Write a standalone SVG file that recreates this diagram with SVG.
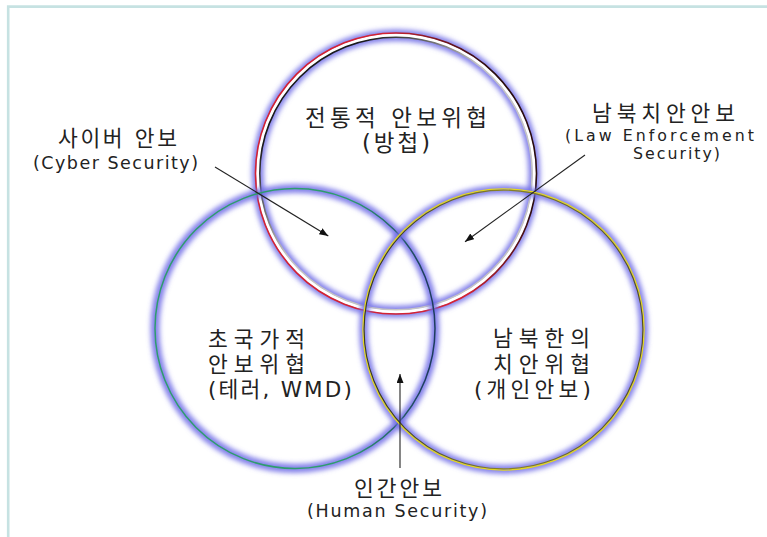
<svg xmlns="http://www.w3.org/2000/svg" width="767" height="537" viewBox="0 0 767 537">
<style>
.t{font-family:"DejaVu Sans","Noto Sans CJK KR",sans-serif;fill:#222;}
.ko{font-size:21.5px;}
.la{font-size:17.5px;}
.lb{font-size:15.8px;}
.glow{fill:none;stroke:#6e6be6;stroke-opacity:0.85;filter:url(#blur);}
.conn{stroke:#222;stroke-width:1.1;fill:none;marker-end:url(#ah);}
</style>
<defs>
<filter id="blur" x="-20%" y="-20%" width="140%" height="140%"><feGaussianBlur stdDeviation="2.6"/></filter>
<marker id="ah" markerUnits="userSpaceOnUse" markerWidth="10" markerHeight="8" refX="9" refY="3.5" orient="auto"><path d="M0,0 L9,3.5 L0,7 z" fill="#111"/></marker>
<linearGradient id="gTopOut" x1="0" y1="0.6" x2="1" y2="0.3"><stop offset="0.6" stop-color="#d42232"/><stop offset="0.9" stop-color="#2a0c0c"/></linearGradient>
<linearGradient id="gTopIn" x1="0" y1="0" x2="1" y2="1"><stop offset="0.2" stop-color="#1a1a1a"/><stop offset="0.45" stop-color="#c4c4c4"/></linearGradient>
<linearGradient id="gLeft" x1="0" y1="0" x2="1" y2="0"><stop offset="0.7" stop-color="#2e9c6e"/><stop offset="0.97" stop-color="#1d3d5e"/></linearGradient>
<linearGradient id="gRight" x1="0" y1="0" x2="1" y2="0"><stop offset="0.05" stop-color="#3c3c14"/><stop offset="0.5" stop-color="#8a8424"/><stop offset="1" stop-color="#55501a"/></linearGradient>
</defs>
<rect width="767" height="537" fill="#fff"/>
<path d="M8.2,537 V6.6 H767" fill="none" stroke="#c6e2e2" stroke-width="2.6"/>

<g id="node-top">
<circle class="glow" cx="396" cy="173.5" r="138.3" stroke-width="12"/>
<circle cx="396" cy="173.5" r="138.3" fill="none" stroke="#fff" stroke-width="3.5"/>
<circle cx="396" cy="173.5" r="140.5" fill="none" stroke="url(#gTopOut)" stroke-width="1.6"/>
<circle cx="396" cy="173.5" r="136.2" fill="none" stroke="url(#gTopIn)" stroke-width="1.6"/>
<text class="t" x="396" y="125.5" text-anchor="middle" font-size="22.5" textLength="182" lengthAdjust="spacing">전통적 안보위협</text>
<text class="t" x="396" y="151" text-anchor="middle" font-size="22.5" textLength="68" lengthAdjust="spacing">(방첩)</text>
</g>

<g id="node-left">
<circle class="glow" cx="295" cy="328.5" r="140" stroke-width="9"/>
<circle cx="295" cy="328.5" r="140" fill="none" stroke="url(#gLeft)" stroke-width="1.5"/>
<text class="t ko" x="208" y="346.5" textLength="97" lengthAdjust="spacing">초국가적</text>
<text class="t ko" x="208" y="371.5" textLength="97" lengthAdjust="spacing">안보위협</text>
<text class="t ko" x="208" y="397" textLength="144" lengthAdjust="spacing">(테러, WMD)</text>
</g>

<g id="node-right">
<circle class="glow" cx="503.5" cy="329.5" r="140" stroke-width="9"/>
<circle cx="503.5" cy="329.5" r="140.6" fill="none" stroke="#e4d81e" stroke-width="1.3"/>
<circle cx="503.5" cy="329.5" r="139.4" fill="none" stroke="url(#gRight)" stroke-width="1.1"/>
<text class="t ko" x="493" y="345.5" textLength="97" lengthAdjust="spacing">남북한의</text>
<text class="t ko" x="493" y="371.5" textLength="97" lengthAdjust="spacing">치안위협</text>
<text class="t ko" x="474" y="397" textLength="117" lengthAdjust="spacing">(개인안보)</text>
</g>

<g id="label-cyber">
<text class="t ko" x="58" y="145.5" textLength="119" lengthAdjust="spacing">사이버 안보</text>
<text class="t la" x="33" y="169" textLength="165" lengthAdjust="spacing">(Cyber Security)</text>
</g>

<g id="label-law">
<text class="t ko" x="592" y="120.5" textLength="143" lengthAdjust="spacing">남북치안안보</text>
<text class="t lb" x="565" y="140.8" textLength="189" lengthAdjust="spacing">(Law Enforcement</text>
<text class="t lb" x="633" y="159.4" textLength="87" lengthAdjust="spacing">Security)</text>
</g>

<g id="label-human">
<text class="t ko" x="354" y="495.5" textLength="88" lengthAdjust="spacing">인간안보</text>
<text class="t la" x="307" y="517" textLength="180" lengthAdjust="spacing">(Human Security)</text>
</g>

<g id="connectors">
<line class="conn" x1="215" y1="167" x2="328.3" y2="236"/>
<line class="conn" x1="585" y1="155" x2="465" y2="241.7"/>
<line class="conn" x1="400" y1="468" x2="400" y2="374"/>
</g>
</svg>
